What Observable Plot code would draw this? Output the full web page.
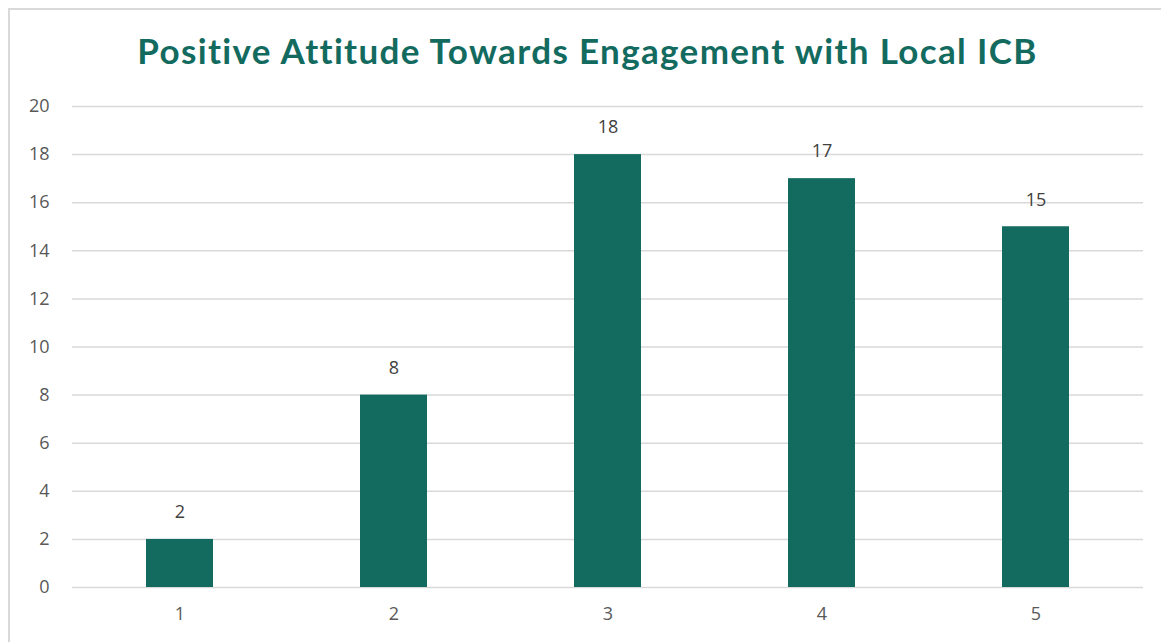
<!DOCTYPE html>
<html>
<head>
<meta charset="utf-8">
<script src="https://cdn.jsdelivr.net/npm/d3@7"></script>
<script src="https://cdn.jsdelivr.net/npm/@observablehq/plot@0.6"></script>
<style>
  html, body { margin: 0; padding: 0; background: #fff; overflow: hidden; }
  #frame { position: absolute; left: 8px; top: 8px; width: 1200px; height: 700px; border: 2px solid #D9D9D9; box-sizing: border-box; }
  #title { position: absolute; left: 7px; top: 29px; width: 1161px; text-align: center; font-family: Lato, "Open Sans", sans-serif; font-weight: 700; font-size: 35px; color: #136B5F; letter-spacing: 1.35px; }
  #chart { position: absolute; left: 0; top: 90px; }
</style>
</head>
<body>
<div id="frame"></div>
<div id="title">Positive Attitude Towards Engagement with Local ICB</div>
<div id="chart"></div>
<script>
const categories = ["1", "2", "3", "4", "5"];
const values = [2, 8, 18, 17, 15];
const yTicks = [0, 2, 4, 6, 8, 10, 12, 14, 16, 18, 20];

const data = categories.map((c, i) => ({category: c, value: values[i]}));

const chart = Plot.plot({
  width: 1161,
  height: 552,
  marginLeft: 72,
  marginRight: 18,
  marginTop: 16,
  marginBottom: 55,
  style: {fontFamily: "'Open Sans', sans-serif", fontSize: "18px", color: "#595959", background: "transparent"},
  x: {domain: categories, paddingInner: 0.685, paddingOuter: 0.3425, label: null, tickSize: 0},
  y: {domain: [0, 20], ticks: yTicks, label: null, tickSize: 0},
  marks: [
    Plot.gridY(yTicks, {stroke: "#D9D9D9", strokeOpacity: 1, strokeWidth: 1.5}),
    Plot.barY(data, {x: "category", y: "value", fill: "#136B5F"}),
    Plot.text(data, {x: "category", y: "value", text: d => String(d.value), dy: -27, fill: "#404040", fontSize: 18}),
    Plot.axisX({tickSize: 0, tickPadding: 20, fontSize: 18, fill: "#595959"}),
    Plot.axisY(yTicks, {tickSize: 0, tickPadding: 23, fontSize: 18, fill: "#595959"})
  ]
});
document.getElementById("chart").appendChild(chart);
</script>
</body>
</html>
